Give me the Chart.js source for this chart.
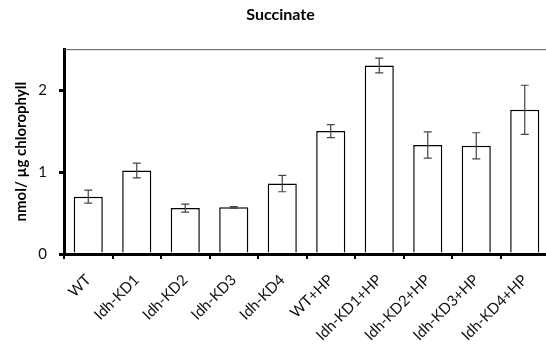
<!DOCTYPE html>
<html>
<head>
<meta charset="utf-8">
<script src="https://cdn.jsdelivr.net/npm/chart.js@4"></script>
<style>
  html, body { margin: 0; padding: 0; background: #fff; overflow: hidden; }
  #wrap { width: 550px; height: 354px; }
</style>
</head>
<body>
<div id="wrap"><canvas id="ch" width="550" height="354"></canvas></div>
<script>
  // datos
  var CATEGORIAS = ['WT', 'Idh-KD1', 'Idh-KD2', 'Idh-KD3', 'Idh-KD4',
    'WT+HP', 'Idh-KD1+HP', 'Idh-KD2+HP', 'Idh-KD3+HP', 'Idh-KD4+HP'];
  var MEDIAS = [0.70, 1.02, 0.56, 0.57, 0.86, 1.50, 2.30, 1.33, 1.32, 1.76];
  var ERRORES = [0.08, 0.09, 0.05, 0.01, 0.10, 0.08, 0.09, 0.16, 0.16, 0.30];
  var Y_TICKS = [0, 1, 2];

  var FUENTE = 'Lato, "Open Sans", sans-serif';

  // barras de error y marco superior
  var extras = {
    id: 'extras',
    afterDatasetsDraw: function (chart) {
      var ctx = chart.ctx, y = chart.scales.y, area = chart.chartArea;
      var meta = chart.getDatasetMeta(0);
      ctx.save();
      ctx.strokeStyle = '#444';
      ctx.lineWidth = 1.2;
      meta.data.forEach(function (bar, i) {
        var hi = y.getPixelForValue(MEDIAS[i] + ERRORES[i]);
        var lo = y.getPixelForValue(MEDIAS[i] - ERRORES[i]);
        ctx.beginPath();
        ctx.moveTo(bar.x, hi); ctx.lineTo(bar.x, lo);
        ctx.moveTo(bar.x - 4, hi); ctx.lineTo(bar.x + 4, hi);
        ctx.moveTo(bar.x - 4, lo); ctx.lineTo(bar.x + 4, lo);
        ctx.stroke();
      });
      ctx.strokeStyle = '#555';
      ctx.lineWidth = 1;
      ctx.beginPath();
      ctx.moveTo(area.left, area.top + 0.5);
      ctx.lineTo(area.right, area.top + 0.5);
      ctx.stroke();
      ctx.restore();
    }
  };

  new Chart(document.getElementById('ch'), {
    type: 'bar',
    data: {
      labels: CATEGORIAS,
      datasets: [{
        data: MEDIAS,
        backgroundColor: '#fff',
        borderColor: '#000',
        borderWidth: 1.5,
        barPercentage: 0.6,
        categoryPercentage: 1
      }]
    },
    options: {
      responsive: false,
      animation: false,
      layout: { padding: { left: 12, right: 1, top: 0, bottom: 0 } },
      plugins: {
        legend: { display: false },
        tooltip: { enabled: false },
        title: {
          display: true,
          text: 'Succinate',
          color: '#000',
          font: { family: FUENTE, size: 16, weight: 'bold' },
          padding: { top: 5, bottom: 25 }
        }
      },
      scales: {
        x: {
          afterFit: function (s) { s.height = 100; },
          grid: { drawOnChartArea: false, offset: true, tickLength: 5, lineWidth: 2, color: '#000' },
          border: { color: '#000', width: 3 },
          ticks: {
            color: '#111', minRotation: 45, maxRotation: 45, padding: 12,
            autoSkip: false,
            font: { family: FUENTE, size: 15 }
          }
        },
        y: {
          min: 0,
          max: 2.5,
          afterFit: function (s) { s.width = 52; },
          afterBuildTicks: function (s) {
            s.ticks = Y_TICKS.map(function (v) { return { value: v }; });
          },
          grid: { drawOnChartArea: false, tickLength: 5, lineWidth: 3, color: '#000' },
          border: { color: '#000', width: 3 },
          ticks: { color: '#111', padding: 12, font: { family: FUENTE, size: 15 } },
          title: {
            display: true,
            text: 'nmol/ µg chlorophyll',
            color: '#000',
            font: { family: FUENTE, size: 15, weight: 'bold' },
            padding: { top: 0, bottom: 0 }
          }
        }
      }
    },
    plugins: [extras]
  });
</script>
</body>
</html>
